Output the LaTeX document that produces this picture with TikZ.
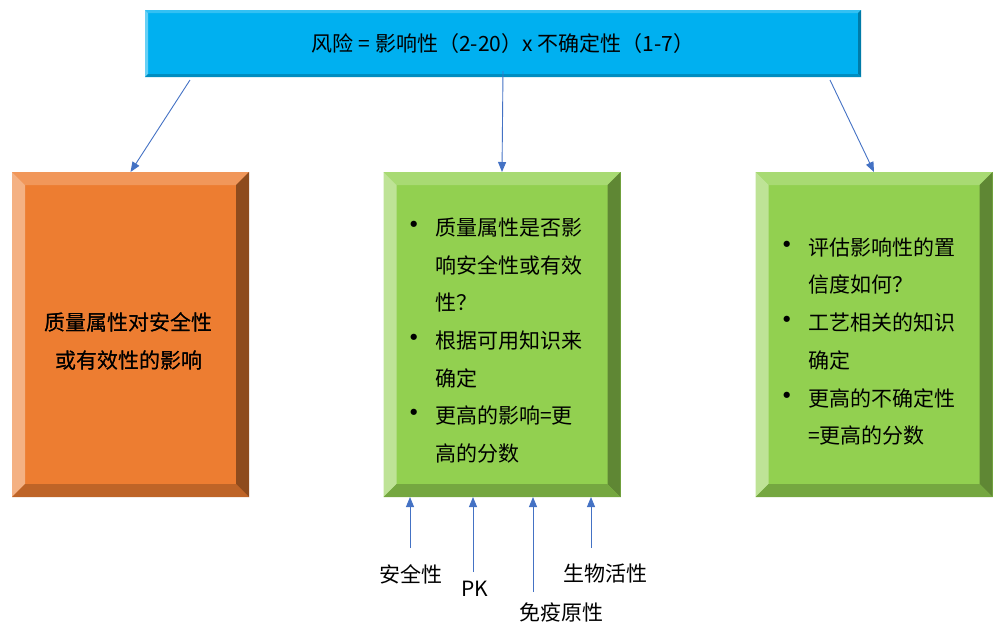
\documentclass[tikz,border=0pt]{standalone}
\usepackage{graphicx}
\usepackage{fontspec}
\setmainfont{Noto Sans CJK SC}
\usetikzlibrary{arrows.meta}
\definecolor{arrblue}{HTML}{4472C4}
\definecolor{bluface}{HTML}{00B0F0}
\definecolor{orgface}{HTML}{ED7D31}
\definecolor{grnface}{HTML}{92D050}
\newcommand{\bul}{\makebox[25pt][l]{\hspace*{4pt}\makebox[0pt][c]{\scalebox{1.4}{•}}}}
\newcommand{\ind}{\hspace*{25pt}}
% bevel: node, depth, top, left, right, bottom
\newcommand{\bevel}[6]{%
\fill[#3] (#1.north west) -- (#1.north east) -- ([shift={(-#2,#2)}]#1.north east) -- ([shift={(#2,#2)}]#1.north west) -- cycle;
\fill[#4] (#1.north west) -- ([shift={(#2,#2)}]#1.north west) -- ([shift={(#2,-#2)}]#1.south west) -- (#1.south west) -- cycle;
\fill[#5] (#1.north east) -- ([shift={(-#2,#2)}]#1.north east) -- ([shift={(-#2,-#2)}]#1.south east) -- (#1.south east) -- cycle;
\fill[#6] (#1.south west) -- ([shift={(#2,-#2)}]#1.south west) -- ([shift={(-#2,-#2)}]#1.south east) -- (#1.south east) -- cycle;}
\begin{document}
\begin{tikzpicture}[x=1pt,y=-1pt,
  box/.style={rectangle,inner sep=0pt,outer sep=0pt,minimum width=237pt,minimum height=325pt},
  body/.style={inner sep=0pt,align=left,font=\fontsize{21}{37.7}\selectfont},
  lab/.style={inner sep=0pt,font=\fontsize{21}{24}\selectfont},
  arr/.style={draw=arrblue,line width=0.9pt,-{Triangle[length=10pt,width=8pt]}}]
\useasboundingbox (0,0) rectangle (1005,630);
% top bar
\node[rectangle,inner sep=0pt,outer sep=0pt,minimum width=716pt,minimum height=67pt,fill=bluface] (bar) at (503,43.5) {};
\bevel{bar}{3}{bluface!80!white}{bluface!60!white}{bluface!70!black}{bluface!80!black}
\node[lab] (risk) at (bar.center) {风险\hspace{5pt}=\hspace{5pt}影响性（2-20）x 不确定性（1-7）};
% three boxes
\node[box,fill=orgface] (lbox) at (130.5,334.5) {};
\node[box,fill=grnface] (mbox) at (502,334.5) {};
\node[box,fill=grnface] (rbox) at (874,334.5) {};
\bevel{lbox}{13}{orgface!80!white}{orgface!60!white}{orgface!60!black}{orgface!80!black}
\foreach \b in {mbox,rbox} \bevel{\b}{13}{grnface!80!white}{grnface!60!white}{grnface!65!black}{grnface!80!black}
\node[body,align=center] (ltxt) at (129,341.5) {质量属性对安全性\\或有效性的影响};
\node[body,anchor=west] (mtxt) at (410,340.5) {\bul 质量属性是否影\\\ind 响安全性或有效\\\ind 性？\\\bul 根据可用知识来\\\ind 确定\\\bul 更高的影响=更\\\ind 高的分数};
\node[body,anchor=west] (rtxt) at (783,341.5) {\bul 评估影响性的置\\\ind 信度如何？\\\bul 工艺相关的知识\\\ind 确定\\\bul 更高的不确定性\\\ind =更高的分数};
% arrows from the bar
\draw[arr] ([shift={(45,3)}]bar.south west) -- (lbox.north);
\draw[arr] ([yshift=6]bar.south) -- (mbox.north);
\draw[arr] ([shift={(-31,3)}]bar.south east) -- (rbox.north);
% inputs below the middle box
\foreach \n/\x/\y/\lx/\ly/\t in {a/410/548/411/574/安全性, b/473/572/475/589/PK, c/533/592/561/612/免疫原性, d/591/548/605/574/生物活性}{
  \coordinate (t\n) at (\x,\y);
  \node[lab] (l\n) at (\lx,\ly) {\t};
  \draw[arr] (t\n) -- (t\n |- mbox.south);
}
\end{tikzpicture}
\end{document}
